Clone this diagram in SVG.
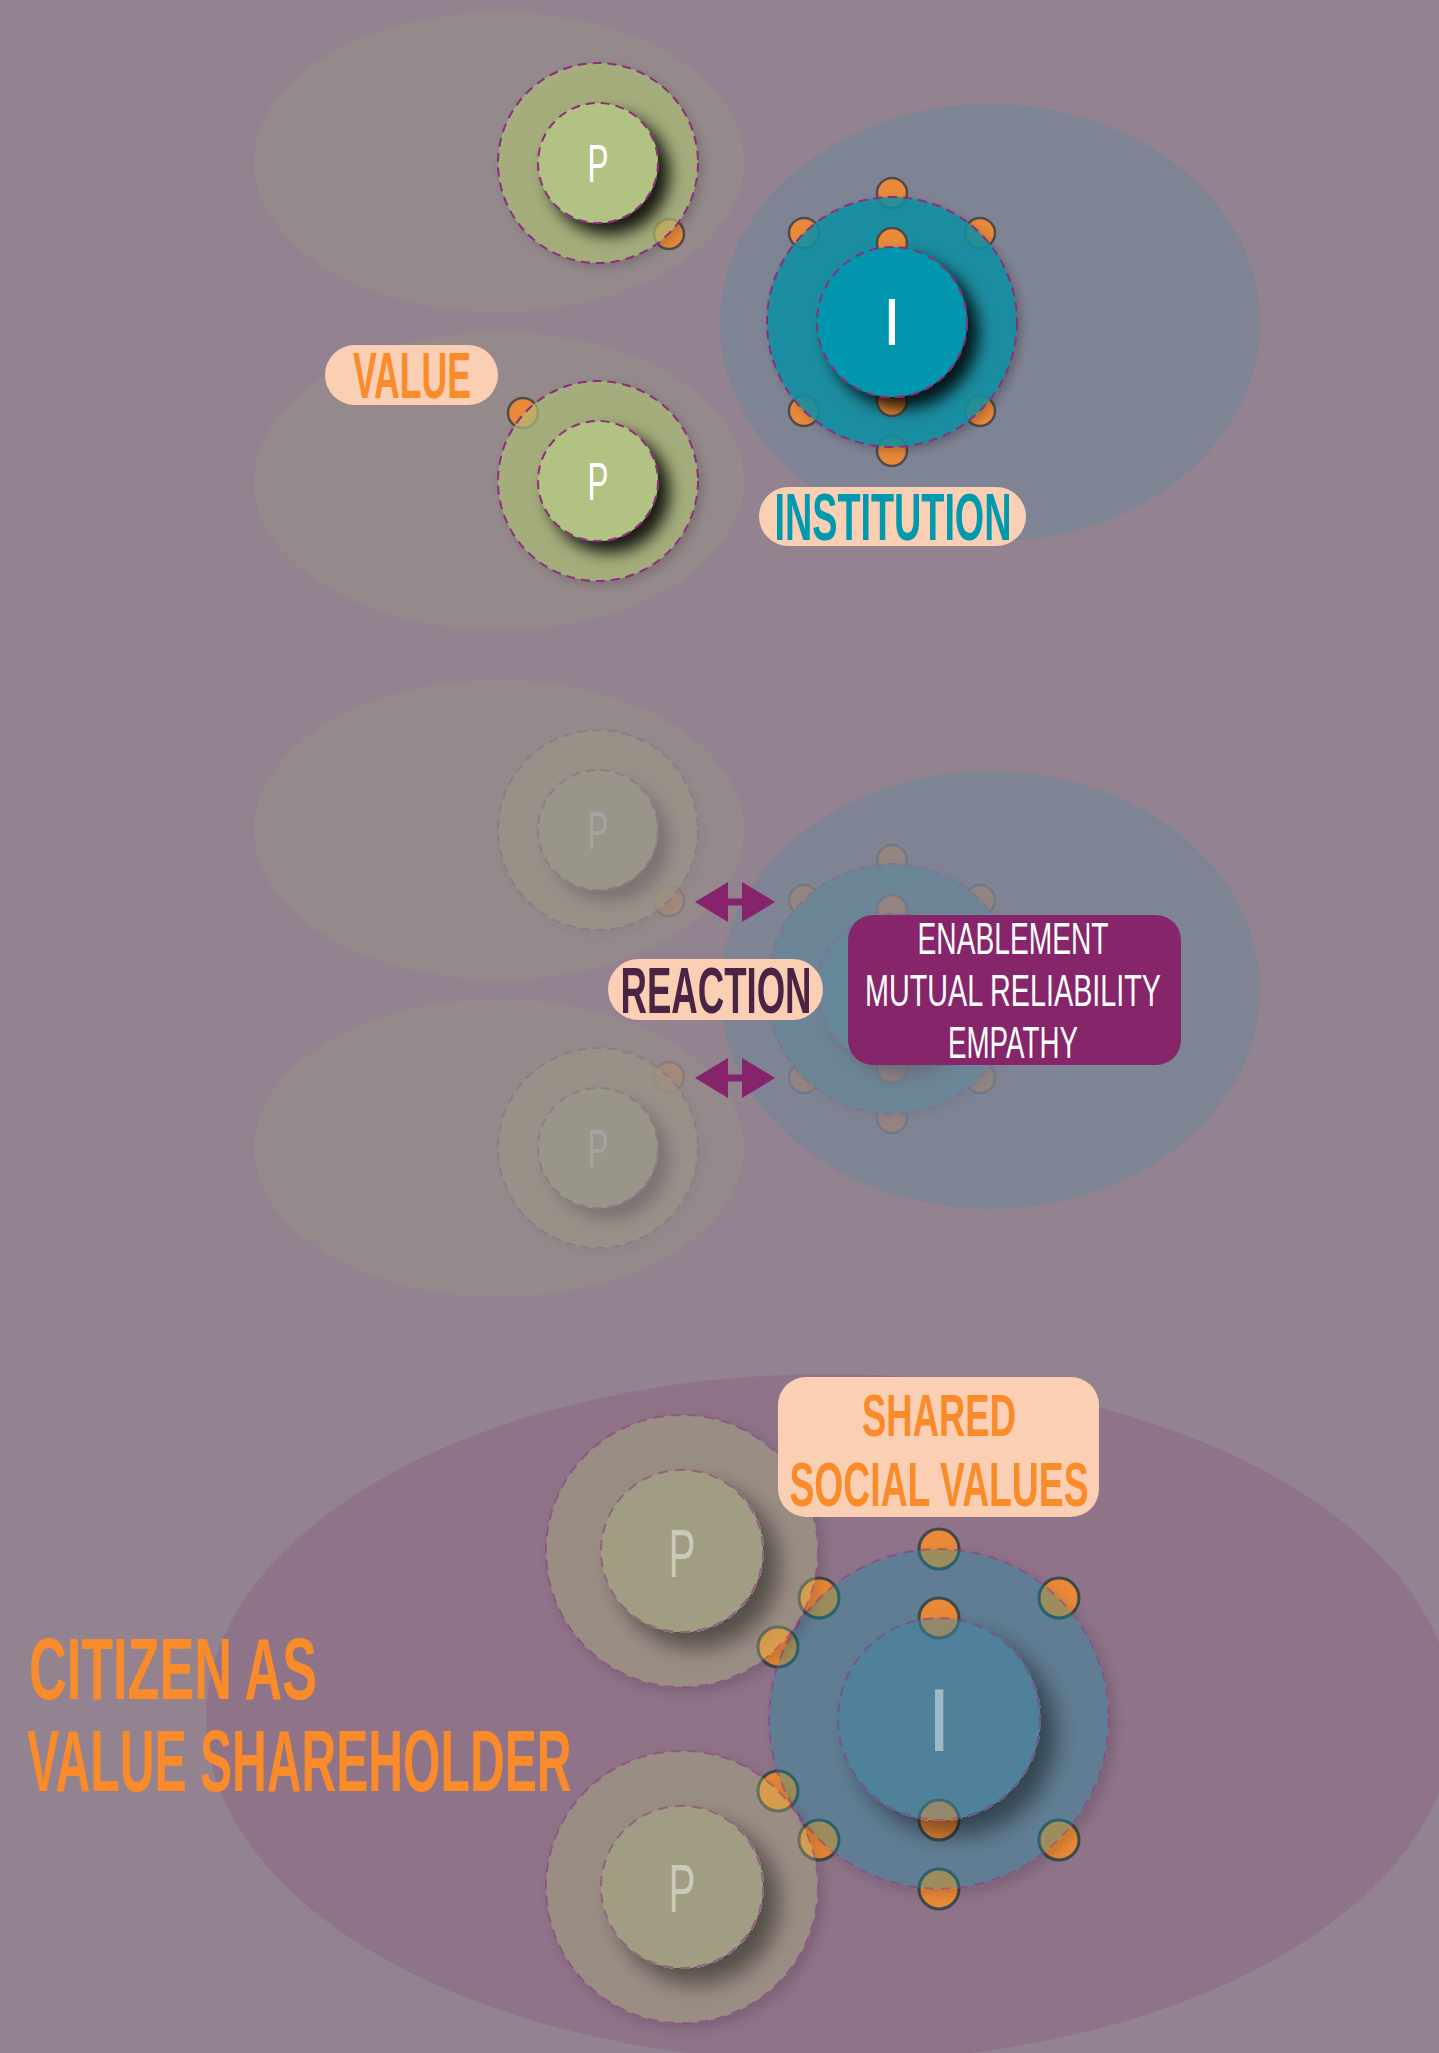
<svg xmlns="http://www.w3.org/2000/svg" width="1439" height="2053" viewBox="0 0 1439 2053">
  <defs>
    <style>
      .bg{fill:#93828f}
      .field-p{fill:#958a8b}
      .field-i{fill:#7f8494}
      .field-all{fill:#8f7389}
      .dash{stroke:#8b2e7b;stroke-width:2;stroke-dasharray:9 6}
      .dash-b{stroke:#8b2e7b;stroke-opacity:.5;stroke-width:2;stroke-dasharray:10 7}
      .pring{fill:#b0c17a;fill-opacity:.65}
      .pcore{fill:#b2c282}
      .iring{fill:#0a91a5;fill-opacity:.85}
      .icore{fill:#0096ae}
      .pring-b{fill:#b0c17a;fill-opacity:.33}
      .pcore-b{fill:#a8ad82;fill-opacity:.5}
      .iring-b{fill:#0393a8;fill-opacity:.33}
      .icore-b{fill:#3d869f;fill-opacity:.5}
      .dot{fill:#e98a3a;stroke:#4f4b4b;stroke-width:2.5}
      .dot-b{fill:#ea8a38;stroke:#3c4a4c;stroke-width:3}
      .glyph{font-family:"Liberation Sans",Arial,sans-serif;fill:#fff;text-anchor:middle}
      .glyph-b{font-family:"Liberation Sans",Arial,sans-serif;fill:#fff;fill-opacity:.45;text-anchor:middle}
      .tag{fill:#fbcfb3}
      .tagtext{font-family:"Liberation Sans",Arial,sans-serif;font-weight:700;text-anchor:middle}
      .orange{fill:#fa8b2b}
      .teal{fill:#0099ae}
      .plum{fill:#4b2344}
      .arrow{fill:#86236b}
      .box{fill:#86256a}
      .boxtext{font-family:"Liberation Sans",Arial,sans-serif;fill:#fff;font-size:45px;text-anchor:middle}
      .title{font-family:"Liberation Sans",Arial,sans-serif;font-weight:700;fill:#fa8b2b}
    </style>
    <!-- drop shadow under the opaque core discs -->
    <filter id="lift" x="-50%" y="-50%" width="200%" height="200%">
      <feGaussianBlur in="SourceAlpha" stdDeviation="8"/>
      <feOffset dx="11" dy="11" result="off"/>
      <feFlood flood-color="#000" flood-opacity="0.85"/>
      <feComposite in2="off" operator="in"/>
      <feMerge><feMergeNode/><feMergeNode in="SourceGraphic"/></feMerge>
    </filter>
    <!-- shadow for translucent discs: kept outside the shape so it does not show through -->
    <filter id="lift-lg" x="-50%" y="-50%" width="200%" height="200%">
      <feComponentTransfer in="SourceAlpha" result="mask"><feFuncA type="linear" slope="20"/></feComponentTransfer>
      <feGaussianBlur in="mask" stdDeviation="11"/>
      <feOffset dx="15" dy="15" result="off"/>
      <feFlood flood-color="#000" flood-opacity="0.45"/>
      <feComposite in2="off" operator="in"/>
      <feComposite in2="mask" operator="out" result="sh"/>
      <feMerge><feMergeNode in="sh"/><feMergeNode in="SourceGraphic"/></feMerge>
    </filter>
    <filter id="halo-lg" x="-30%" y="-30%" width="160%" height="160%">
      <feComponentTransfer in="SourceAlpha" result="mask"><feFuncA type="linear" slope="20"/></feComponentTransfer>
      <feGaussianBlur in="mask" stdDeviation="6"/>
      <feOffset dx="5" dy="5" result="off"/>
      <feFlood flood-color="#000" flood-opacity="0.15"/>
      <feComposite in2="off" operator="in"/>
      <feComposite in2="mask" operator="out" result="sh"/>
      <feMerge><feMergeNode in="sh"/><feMergeNode in="SourceGraphic"/></feMerge>
    </filter>
    <!-- soft halo under the outer rings -->
    <filter id="halo" x="-30%" y="-30%" width="160%" height="160%">
      <feGaussianBlur in="SourceAlpha" stdDeviation="5"/>
      <feOffset dx="4" dy="4" result="off"/>
      <feFlood flood-color="#000" flood-opacity="0.25"/>
      <feComposite in2="off" operator="in"/>
      <feMerge><feMergeNode/><feMergeNode in="SourceGraphic"/></feMerge>
    </filter>
  </defs>

  <rect class="bg" x="0" y="0" width="1439" height="2053"/>

  <!-- influence fields -->
  <g id="fields">
    <ellipse class="field-p" cx="499" cy="162" rx="245" ry="150"/>
    <ellipse class="field-p" cx="499" cy="481" rx="245" ry="149"/>
    <ellipse class="field-i" cx="990" cy="323" rx="270" ry="219"/>
    <ellipse class="field-p" cx="499" cy="830" rx="245" ry="150"/>
    <ellipse class="field-p" cx="499" cy="1148" rx="245" ry="149"/>
    <ellipse class="field-i" cx="990" cy="990" rx="270" ry="219"/>
    <ellipse class="field-all" cx="830" cy="1718" rx="624" ry="344"/>
  </g>

  <!-- stage 1 -->
  <g id="person-1">
    <circle class="dot" cx="669" cy="234" r="15"/>
    <circle class="pring dash" cx="598" cy="163" r="100" filter="url(#halo)"/>
    <circle class="pcore dash" cx="598" cy="163" r="60" filter="url(#lift)"/>
    <text class="glyph" x="598" y="182" font-size="53" textLength="21" lengthAdjust="spacingAndGlyphs">P</text>
  </g>
  <g id="person-2">
    <circle class="dot" cx="523" cy="413" r="15"/>
    <circle class="pring dash" cx="598" cy="481" r="100" filter="url(#halo)"/>
    <circle class="pcore dash" cx="598" cy="481" r="60" filter="url(#lift)"/>
    <text class="glyph" x="598" y="500" font-size="53" textLength="21" lengthAdjust="spacingAndGlyphs">P</text>
  </g>
  <g id="institution-1">
    <circle class="dot" cx="892" cy="193" r="15"/>
    <circle class="dot" cx="804" cy="233" r="15"/>
    <circle class="dot" cx="980" cy="233" r="15"/>
    <circle class="dot" cx="804" cy="411" r="15"/>
    <circle class="dot" cx="980" cy="411" r="15"/>
    <circle class="dot" cx="892" cy="451" r="15"/>
    <circle class="iring dash" cx="892" cy="322" r="125" filter="url(#halo)"/>
    <circle class="dot" cx="892" cy="243" r="15"/>
    <circle class="dot" cx="892" cy="401" r="15"/>
    <circle class="icore dash" cx="892" cy="322" r="75" filter="url(#lift)"/>
    <text class="glyph" x="892" y="345" font-size="66">I</text>
  </g>
  <g id="label-value">
    <rect class="tag" x="325" y="345" width="173" height="60" rx="30"/>
    <text class="tagtext orange" x="412" y="398" font-size="64" textLength="118" lengthAdjust="spacingAndGlyphs">VALUE</text>
  </g>
  <g id="label-institution">
    <rect class="tag" x="759" y="487" width="267" height="59" rx="29.5"/>
    <text class="tagtext teal" x="893" y="540" font-size="66" textLength="237" lengthAdjust="spacingAndGlyphs">INSTITUTION</text>
  </g>

  <!-- stage 2 (dimmed actors) -->
  <g id="person-3" opacity="0.2">
    <circle class="dot" cx="669" cy="901" r="15"/>
    <circle class="pring dash" cx="598" cy="830" r="100" filter="url(#halo)"/>
    <circle class="pcore dash" cx="598" cy="830" r="60" filter="url(#lift)"/>
    <text class="glyph" x="598" y="849" font-size="53" textLength="21" lengthAdjust="spacingAndGlyphs">P</text>
  </g>
  <g id="person-4" opacity="0.2">
    <circle class="dot" cx="669" cy="1077" r="15"/>
    <circle class="pring dash" cx="598" cy="1148" r="100" filter="url(#halo)"/>
    <circle class="pcore dash" cx="598" cy="1148" r="60" filter="url(#lift)"/>
    <text class="glyph" x="598" y="1167" font-size="53" textLength="21" lengthAdjust="spacingAndGlyphs">P</text>
  </g>
  <g id="institution-2" opacity="0.2">
    <circle class="dot" cx="892" cy="860" r="15"/>
    <circle class="dot" cx="804" cy="900" r="15"/>
    <circle class="dot" cx="980" cy="900" r="15"/>
    <circle class="dot" cx="804" cy="1078" r="15"/>
    <circle class="dot" cx="980" cy="1078" r="15"/>
    <circle class="dot" cx="892" cy="1118" r="15"/>
    <circle class="iring dash" cx="892" cy="989" r="125" filter="url(#halo)"/>
    <circle class="dot" cx="892" cy="910" r="15"/>
    <circle class="dot" cx="892" cy="1068" r="15"/>
    <circle class="icore dash" cx="892" cy="989" r="75" filter="url(#lift)"/>
  </g>

  <g id="connectors">
    <path class="arrow" d="M695,902 L728,882 L728,898.5 L742,898.5 L742,882 L775,902 L742,922 L742,905.5 L728,905.5 L728,922 Z"/>
    <path class="arrow" d="M695,1078 L728,1058 L728,1074.5 L742,1074.5 L742,1058 L775,1078 L742,1098 L742,1081.5 L728,1081.5 L728,1098 Z"/>
  </g>

  <g id="label-reaction">
    <rect class="tag" x="608" y="959" width="215" height="61" rx="30.5"/>
    <text class="tagtext plum" transform="translate(716 1013) scale(0.5715 1)" font-size="64">REACTION</text>
  </g>
  <g id="qualities">
    <rect class="box" x="848" y="915" width="333" height="150" rx="25"/>
    <text class="boxtext" x="1013" y="954" textLength="191" lengthAdjust="spacingAndGlyphs">ENABLEMENT</text>
    <text class="boxtext" transform="translate(1013 1006) scale(0.639 1)">MUTUAL RELIABILITY</text>
    <text class="boxtext" x="1013" y="1058" textLength="130" lengthAdjust="spacingAndGlyphs">EMPATHY</text>
  </g>

  <!-- stage 3 -->
  <g id="institution-3">
    <circle class="dot-b" cx="939" cy="1549" r="20"/>
    <circle class="dot-b" cx="819" cy="1598" r="20"/>
    <circle class="dot-b" cx="1059" cy="1598" r="20"/>
    <circle class="dot-b" cx="819" cy="1840" r="20"/>
    <circle class="dot-b" cx="1059" cy="1840" r="20"/>
    <circle class="dot-b" cx="939" cy="1889" r="20"/>
    <circle class="dot-b" cx="778" cy="1647" r="20"/>
    <circle class="dot-b" cx="778" cy="1791" r="20"/>
    <circle class="iring-b dash-b" cx="939" cy="1719" r="170" filter="url(#halo-lg)"/>
    <circle class="dot-b" cx="939" cy="1618" r="20"/>
    <circle class="dot-b" cx="939" cy="1820" r="20"/>
    <circle class="icore-b dash-b" cx="939" cy="1719" r="101" filter="url(#lift-lg)"/>
    <text class="glyph-b" x="939" y="1751" font-size="89">I</text>
  </g>
  <g id="person-5">
    <circle class="pring-b dash-b" cx="682" cy="1551" r="136" filter="url(#halo-lg)"/>
    <circle class="pcore-b dash-b" cx="682" cy="1551" r="81" filter="url(#lift-lg)"/>
    <text class="glyph-b" x="682" y="1577" font-size="68" textLength="27" lengthAdjust="spacingAndGlyphs">P</text>
  </g>
  <g id="person-6">
    <circle class="pring-b dash-b" cx="682" cy="1887" r="136" filter="url(#halo-lg)"/>
    <circle class="pcore-b dash-b" cx="682" cy="1887" r="81" filter="url(#lift-lg)"/>
    <text class="glyph-b" x="682" y="1912" font-size="68" textLength="27" lengthAdjust="spacingAndGlyphs">P</text>
  </g>
  <g id="label-shared">
    <rect class="tag" x="778" y="1377" width="321" height="140" rx="28"/>
    <text class="tagtext orange" x="939" y="1436" font-size="60" textLength="154" lengthAdjust="spacingAndGlyphs">SHARED</text>
    <text class="tagtext orange" x="939" y="1506" font-size="63" textLength="299" lengthAdjust="spacingAndGlyphs">SOCIAL VALUES</text>
  </g>
  <g id="title">
    <text class="title" transform="translate(29 1699) scale(0.6 1)" font-size="87">CITIZEN AS</text>
    <text class="title" transform="translate(27 1791) scale(0.547 1)" font-size="88">VALUE SHAREHOLDER</text>
  </g>
</svg>
